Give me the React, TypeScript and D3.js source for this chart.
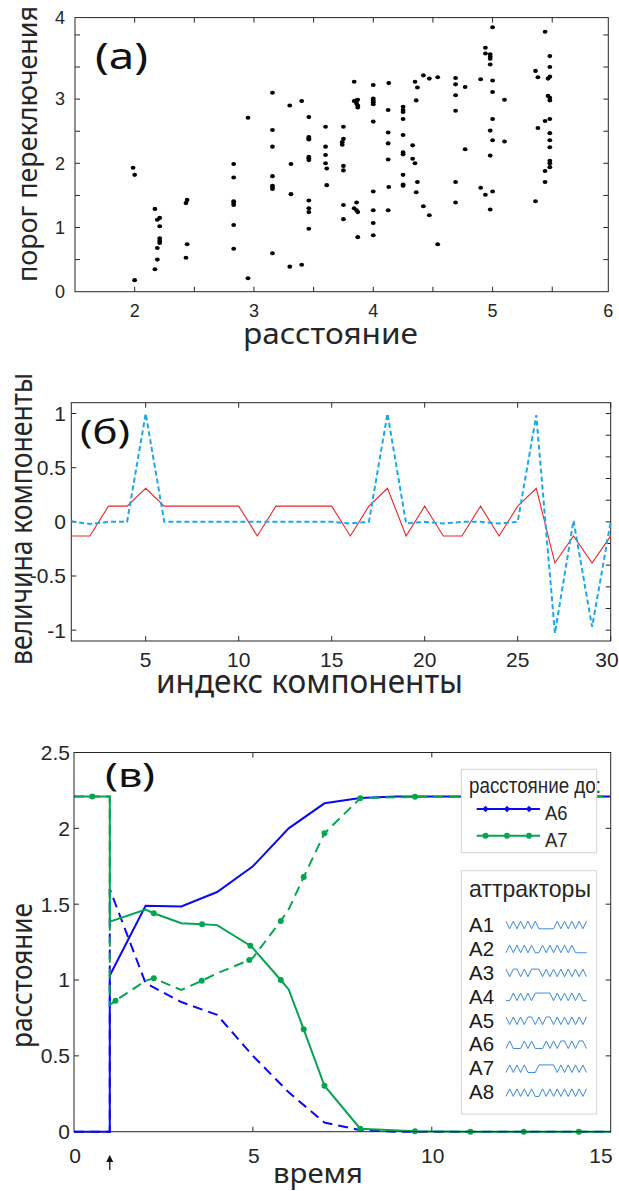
import React, { useEffect } from "react";
import * as d3 from "d3";

const TICK_FONT = "'Liberation Sans', Arial, Helvetica, sans-serif";
const LABEL_FONT = "'Noto Sans', 'Open Sans', 'DejaVu Sans', sans-serif";
const AXIS_COLOR = "#262626";

// ---------- (а) switching threshold vs distance ----------
const distanceCols = [
  1.987, 2.0, 2.17, 2.19, 2.21, 2.43, 2.44, 2.83, 2.95, 3.155, 3.3, 3.31, 3.4, 3.46,
  3.6, 3.61, 3.74, 3.75, 3.84, 3.86, 3.87, 4.0, 4.125, 4.13, 4.25, 4.33, 4.35, 4.36,
  4.37, 4.42, 4.47, 4.54, 4.69, 4.77, 4.9, 4.94, 4.98, 5.0, 5.1, 5.36, 5.38, 5.44,
  5.465, 5.48,
];
const thresholdCols = [
  [1.93],
  [1.82, 0.18],
  [1.29, 0.35],
  [1.12, 0.68, 0.5],
  [1.15, 1.02, 0.83, 0.79, 0.76],
  [1.38, 0.53],
  [1.43, 0.74],
  [1.99, 1.78, 1.41, 1.38, 1.35, 1.04, 0.67],
  [2.71, 0.21],
  [3.1, 2.52, 2.26, 1.8, 1.65, 1.63, 1.6, 0.6],
  [2.9, 0.39],
  [1.99, 1.52],
  [2.97, 0.42],
  [2.72, 2.41, 2.39, 2.37, 2.1, 2.08, 2.05, 1.42, 1.3, 1.24, 0.98],
  [2.57, 2.26, 2.13, 2.0],
  [1.92, 1.66],
  [2.33, 2.29],
  [2.57, 2.38, 1.96, 1.89, 1.35, 1.13],
  [3.27, 2.97, 1.3],
  [2.98, 2.93, 1.39, 1.27],
  [2.99, 2.9, 2.87, 1.24, 0.85],
  [3.22, 3.01, 2.98, 2.95, 2.92, 2.65, 1.56, 1.27, 1.07, 0.88],
  [2.83, 2.48, 2.31, 2.06, 1.27],
  [3.25, 1.63],
  [2.88, 2.83, 2.8, 2.69, 2.44, 2.17, 2.14, 1.82, 1.67, 1.65],
  [2.28, 2.07],
  [3.27, 2.0],
  [2.98, 1.55],
  [3.18, 1.71],
  [3.37, 1.33],
  [3.32, 1.19],
  [3.34, 0.74],
  [3.33, 3.23, 3.06, 2.82, 1.71, 1.39],
  [3.19, 2.22],
  [3.31, 1.62],
  [3.8, 3.71, 1.51],
  [3.7, 3.66, 3.63, 3.54, 2.51, 2.12, 1.28],
  [4.12, 3.29, 3.11, 2.69, 2.36, 1.56],
  [2.99, 2.34],
  [3.44, 1.41],
  [3.34, 2.55],
  [4.05, 2.66, 1.88, 1.71],
  [3.32, 3.05],
  [3.67, 3.5, 3.35, 3.02, 2.98, 2.69, 2.47, 2.36, 2.25, 2.04, 2.0, 1.94],
];
const xTickValsA = [2, 2.5, 3, 3.5, 4, 4.5, 5, 5.5];
const yTickValsA = [0.5, 1, 1.5, 2, 2.5, 3, 3.5, 4];
const xLabelsA = ["2", "3", "4", "5", "6"];
const yLabelsA = ["0", "1", "2", "3", "4"];

// ---------- (б) component values ----------
const componentIdx = [
  1, 2, 3, 4, 5, 6, 7, 8, 9, 10, 11, 12, 13, 14, 15, 16, 17, 18, 19, 20, 21, 22, 23, 24,
  25, 26, 27, 28, 29, 30,
];
const componentRed = [
  -0.13, -0.13, 0.145, 0.145, 0.31, 0.145, 0.145, 0.145, 0.145, 0.145, -0.13, 0.145,
  0.145, 0.145, 0.145, -0.13, 0.145, 0.31, -0.13, 0.145, -0.13, -0.13, 0.145, -0.13,
  0.145, 0.31, -0.38, -0.13, -0.38, -0.13,
];
const componentCyan = [
  0.005, -0.02, 0, 0, 1.0, 0, 0, 0, 0, 0, 0, 0, 0, 0, 0, -0.015, 0, 1.0, -0.015, 0,
  -0.015, 0, 0, -0.015, 0, 0.985, -1.03, 0.012, -0.97, 0,
];
const xTickValsB = [5, 10, 15, 20, 25, 30];
const yLabelValsB = [-1, -0.5, 0, 0.5, 1];
const yMinorValsB = [-1, -0.8, -0.6, -0.4, -0.2, 0, 0.2, 0.4, 0.6, 0.8, 1];

// ---------- (в) distance to attractors over time ----------
type Pt = [number, number];
const distA6Solid: Pt[] = [
  [0, 0], [1, 0], [1, 1.03], [2, 1.49], [3, 1.485], [4, 1.58], [5, 1.75], [6, 2.0],
  [7, 2.165], [8, 2.2], [9, 2.21], [15, 2.21],
];
const distA6Dashed: Pt[] = [
  [0, 0], [1, 0], [1, 1.6], [2, 0.98], [3, 0.855], [4, 0.77], [5, 0.5], [6, 0.26],
  [7, 0.06], [8, 0.01], [9, 0], [15, 0],
];
const distA7Solid: Pt[] = [
  [0, 2.21], [1, 2.21], [1, 1.385], [2, 1.465], [2.23, 1.44], [3, 1.375], [3.58, 1.367],
  [4, 1.362], [4.93, 1.226], [5, 1.21], [5.78, 1.0], [6, 0.938], [6.42, 0.675],
  [7, 0.303], [8, 0.02], [9.53, 0.003], [11.08, 0], [15, 0],
];
const distA7SolidMarks: Pt[] = [
  [0.51, 2.21], [2.23, 1.44], [3.58, 1.367], [4.93, 1.226], [5.78, 1.0], [6.42, 0.675],
  [7, 0.303], [8, 0.02], [9.53, 0.003], [11.08, 0], [12.57, 0], [14.11, 0],
];
const distA7Dashed: Pt[] = [
  [0, 2.21], [1, 2.21], [1, 0.835], [1.16, 0.864], [2, 0.995], [2.23, 1.011], [3, 0.934],
  [3.57, 0.995], [4, 1.044], [4.9, 1.132], [5, 1.147], [5.78, 1.389], [6, 1.466],
  [6.42, 1.679], [7, 1.967], [8, 2.198], [9.53, 2.208], [15, 2.21],
];
const distA7DashedMarks: Pt[] = [
  [1.16, 0.864], [2.23, 1.011], [3.57, 0.995], [4.9, 1.132], [5.78, 1.389], [6.42, 1.679],
  [7, 1.967], [8, 2.198], [9.53, 2.208], [11.08, 2.21], [12.57, 2.21], [14.11, 2.21],
];
const perturbTime = 1;
const xTickValsC = [0, 5, 10, 15];
const yTickValsC = [0, 0.5, 1, 1.5, 2, 2.5];
const legendDistItems = ["A6", "A7"];
const attractorNames = ["A1", "A2", "A3", "A4", "A5", "A6", "A7", "A8"];
const attractorPatterns = [
  "10101010100000101010101",
  "01010101001010101010000",
  "10110101110101010101010",
  "00101010111110101010100",
  "10101011010110101010101",
  "01000101000101011010110",
  "01010100011111010101010",
  "01010101001010101010101",
];

const BLUE = "#0a0af0";
const GREEN = "#05a550";

function Box({ x0, x1, y0, y1 }: { x0: number; x1: number; y0: number; y1: number }) {
  return (
    <rect x={x0} y={y0} width={x1 - x0} height={y1 - y0} fill="none" stroke={AXIS_COLOR} strokeWidth={1} />
  );
}

// axis title, optionally rotated, fitted to a given length
function Title({
  x, y, text, size, len, rotate = false,
}: { x: number; y: number; text: string; size: number; len: number; rotate?: boolean }) {
  return (
    <text
      transform={rotate ? `translate(${x},${y}) rotate(-90)` : `translate(${x},${y})`}
      fontSize={size}
      fontFamily={LABEL_FONT}
      textAnchor="middle"
      textLength={len}
      lengthAdjust="spacingAndGlyphs"
      fill="#262626"
    >
      {text}
    </text>
  );
}

const App = () => {
  useEffect(() => {
    document.body.style.margin = "0";
  }, []);

  // ----- scales -----
  const xA = d3.scaleLinear().domain([1.5, 5.97]).range([75, 608.3]);
  const yA = d3.scaleLinear().domain([0, 4.27]).range([291.7, 17.6]);
  const xLabelPosA = [2, 3, 4, 5, xA.domain()[1]];
  const yLabelPosA = [0, 1, 2, 3, yA.domain()[1]];

  const xB = d3.scaleLinear().domain([1, 30]).range([71.3, 610.7]);
  const yB = d3.scaleLinear().domain([-1.1, 1.1]).range([641, 402.7]);

  const xC = d3.scaleLinear().domain([0, 15]).range([74, 610.7]);
  const yC = d3.scaleLinear().domain([0, 2.5]).range([1131.7, 752.5]);

  const [ax0, ax1] = xA.range();
  const [ay1, ay0] = yA.range();
  const [bx0, bx1] = xB.range();
  const [by1, by0] = yB.range();
  const [cx0, cx1] = xC.range();
  const [cy1, cy0] = yC.range();
  const TL = 5;

  const lineB = d3
    .line<number>()
    .x((_, i) => xB(componentIdx[i]))
    .y((d) => yB(d));
  const lineC = d3
    .line<Pt>()
    .x((d) => xC(d[0]))
    .y((d) => yC(d[1]));

  // legend geometry
  const lg1 = { x0: 461.3, x1: 596.7, y0: 769.3, y1: 852.7 };
  const lg2 = { x0: 461.3, x1: 596.7, y0: 870.7, y1: 1114 };
  const waveX = d3.scaleLinear().domain([0, 22]).range([506, 586.5]);

  return (
    <svg
      width={619}
      height={1191}
      viewBox="0 0 619 1191"
      style={{ display: "block", position: "absolute", left: 0, top: 0, background: "#fff" }}
    >
      <rect x={0} y={0} width={619} height={1191} fill="#fff" />

      {/* ================= (а) ================= */}
      <g>
        <Box x0={ax0} x1={ax1} y0={ay0} y1={ay1} />
        {xTickValsA.map((v) => (
          <g key={"xa" + v} stroke={AXIS_COLOR}>
            <line x1={xA(v)} x2={xA(v)} y1={ay1} y2={ay1 - TL} />
            <line x1={xA(v)} x2={xA(v)} y1={ay0} y2={ay0 + TL} />
          </g>
        ))}
        {yTickValsA.map((v) => (
          <g key={"ya" + v} stroke={AXIS_COLOR}>
            <line x1={ax0} x2={ax0 + TL} y1={yA(v)} y2={yA(v)} />
            <line x1={ax1} x2={ax1 - TL} y1={yA(v)} y2={yA(v)} />
          </g>
        ))}
        {xLabelsA.map((t, i) => (
          <text key={"xla" + t} x={Math.min(xA(xLabelPosA[i]), 612)} y={317} fontSize={18} fontFamily={TICK_FONT} textAnchor="middle" fill="#262626">
            {t}
          </text>
        ))}
        {yLabelsA.map((t, i) => (
          <text key={"yla" + t} x={65} y={yA(yLabelPosA[i])} dy="0.35em" fontSize={18} fontFamily={TICK_FONT} textAnchor="end" fill="#262626">
            {t}
          </text>
        ))}
        {distanceCols.map((d, ci) =>
          thresholdCols[ci].map((v, k) => (
            <ellipse key={`p${ci}-${k}`} cx={xA(d)} cy={yA(v)} rx={2.4} ry={2.05} fill="#000" />
          ))
        )}
        <text x={95} y={69} fontSize={37} fontFamily={LABEL_FONT} textLength={53} lengthAdjust="spacingAndGlyphs" fill="#111">(а)</text>
        <Title x={330.5} y={344} text="расстояние" size={29} len={175} />
        <Title x={36.7} y={144} text="порог переключения" size={28} len={276} rotate />
      </g>

      {/* ================= (б) ================= */}
      <g>
        <Box x0={bx0} x1={bx1} y0={by0} y1={by1} />
        {xTickValsB.map((v) => (
          <g key={"xb" + v} stroke={AXIS_COLOR}>
            <line x1={xB(v)} x2={xB(v)} y1={by1} y2={by1 - TL} />
            <line x1={xB(v)} x2={xB(v)} y1={by0} y2={by0 + TL} />
          </g>
        ))}
        {yLabelValsB.map((v) => (
          <line key={"ybl" + v} x1={bx0} x2={bx0 + TL} y1={yB(v)} y2={yB(v)} stroke={AXIS_COLOR} />
        ))}
        {yMinorValsB.map((v) => (
          <line key={"ybr" + v} x1={bx1} x2={bx1 - TL} y1={yB(v)} y2={yB(v)} stroke={AXIS_COLOR} />
        ))}
        {xTickValsB.map((v) => (
          <text key={"xlb" + v} x={Math.min(xB(v), 607)} y={667} fontSize={21} fontFamily={TICK_FONT} textAnchor="middle" fill="#262626">
            {v}
          </text>
        ))}
        {yLabelValsB.map((v) => (
          <text key={"ylb" + v} x={66} y={yB(v)} dy="0.35em" fontSize={21} fontFamily={TICK_FONT} textAnchor="end" fill="#262626">
            {v}
          </text>
        ))}
        <path d={lineB(componentRed) ?? ""} fill="none" stroke="#e8262c" strokeWidth={1.1} />
        <path d={lineB(componentCyan) ?? ""} fill="none" stroke="#1ba8e8" strokeWidth={2} strokeDasharray="5,3" />
        <text x={80} y={444} fontSize={33} fontFamily={LABEL_FONT} textLength={50} lengthAdjust="spacingAndGlyphs" fill="#111">(б)</text>
        <Title x={309.5} y={693} text="индекс компоненты" size={32} len={307} />
        <Title x={31.7} y={519} text="величина компоненты" size={30} len={292} rotate />
      </g>

      {/* ================= (в) ================= */}
      <g>
        <path d={lineC(distA6Dashed) ?? ""} fill="none" stroke={BLUE} strokeWidth={2} strokeDasharray="10,6" />
        <path d={lineC(distA6Solid) ?? ""} fill="none" stroke={BLUE} strokeWidth={2} />
        <path d={lineC(distA7Dashed) ?? ""} fill="none" stroke={GREEN} strokeWidth={2} strokeDasharray="10,6" />
        {distA7DashedMarks.map((p, i) => (
          <circle key={"gdm" + i} cx={xC(p[0])} cy={yC(p[1])} r={3} fill={GREEN} />
        ))}
        <path d={lineC(distA7Solid) ?? ""} fill="none" stroke={GREEN} strokeWidth={2} />
        {distA7SolidMarks.map((p, i) => (
          <circle key={"gsm" + i} cx={xC(p[0])} cy={yC(p[1])} r={3} fill={GREEN} />
        ))}

        <Box x0={cx0} x1={cx1} y0={cy0} y1={cy1} />
        {xTickValsC.slice(1, 3).map((v) => (
          <g key={"xc" + v} stroke={AXIS_COLOR}>
            <line x1={xC(v)} x2={xC(v)} y1={cy1} y2={cy1 - TL} />
            <line x1={xC(v)} x2={xC(v)} y1={cy0} y2={cy0 + TL} />
          </g>
        ))}
        {yTickValsC.slice(1, 5).map((v) => (
          <g key={"yc" + v} stroke={AXIS_COLOR}>
            <line x1={cx0} x2={cx0 + TL} y1={yC(v)} y2={yC(v)} />
            <line x1={cx1} x2={cx1 - TL} y1={yC(v)} y2={yC(v)} />
          </g>
        ))}
        {xTickValsC.map((v) => (
          <text key={"xlc" + v} x={Math.min(xC(v) + 1, 601)} y={1163} fontSize={21} fontFamily={TICK_FONT} textAnchor="middle" fill="#262626">
            {v}
          </text>
        ))}
        {yTickValsC.map((v) => (
          <text key={"ylc" + v} x={70} y={yC(v)} dy="0.35em" fontSize={21} fontFamily={TICK_FONT} textAnchor="end" fill="#262626">
            {v}
          </text>
        ))}
        {/* perturbation marker */}
        <line x1={xC(perturbTime)} x2={xC(perturbTime)} y1={1170} y2={1160} stroke="#111" strokeWidth={1.3} />
        <path
          d={`M${xC(perturbTime) - 3.5},${1162} L${xC(perturbTime)},${1155} L${xC(perturbTime) + 3.5},${1162} Z`}
          fill="#111"
        />
        <text x={105} y={787} fontSize={32} fontFamily={LABEL_FONT} textLength={50} lengthAdjust="spacingAndGlyphs" fill="#111">(в)</text>
        <Title x={318} y={1183} text="время" size={27} len={90} />
        <Title x={31.7} y={975.5} text="расстояние" size={29} len={145} rotate />

        {/* legend: distance to */}
        <rect x={lg1.x0} y={lg1.y0} width={lg1.x1 - lg1.x0} height={lg1.y1 - lg1.y0} fill="#fff" stroke="#d4d4d4" />
        <text x={469} y={793} fontSize={22} fontFamily={TICK_FONT} textLength={132} lengthAdjust="spacingAndGlyphs" fill="#262626">
          расстояние до:
        </text>
        {legendDistItems.map((name, i) => {
          const yy = 809 + i * 26.8;
          const col = i === 0 ? BLUE : GREEN;
          const mx = [485.5, 507, 529];
          return (
            <g key={name}>
              <line x1={476.7} x2={540} y1={yy} y2={yy} stroke={col} strokeWidth={2} />
              {mx.map((x) =>
                i === 0 ? (
                  <path key={x} d={`M${x},${yy - 3.2} L${x + 3.2},${yy} L${x},${yy + 3.2} L${x - 3.2},${yy} Z`} fill={col} />
                ) : (
                  <circle key={x} cx={x} cy={yy} r={3} fill={col} />
                )
              )}
              <text x={545} y={yy + 11} fontSize={21} fontFamily={TICK_FONT} textLength={22.5} lengthAdjust="spacingAndGlyphs" fill="#262626">
                {name}
              </text>
            </g>
          );
        })}

        {/* legend: attractors */}
        <rect x={lg2.x0} y={lg2.y0} width={lg2.x1 - lg2.x0} height={lg2.y1 - lg2.y0} fill="#fff" stroke="#d4d4d4" />
        <text x={469} y={896.7} fontSize={24} fontFamily={TICK_FONT} textLength={122} lengthAdjust="spacingAndGlyphs" fill="#262626">
          аттракторы
        </text>
        {attractorNames.map((name, i) => {
          const base = 931.7 + i * 23.95;
          const cy = base - 6.7;
          const bits = attractorPatterns[i].split("").map(Number);
          const wave = d3
            .line<number>()
            .x((_, k) => waveX(k))
            .y((b) => cy + (b ? -3.8 : 3.8));
          return (
            <g key={name}>
              <text x={469} y={base} fontSize={21} fontFamily={TICK_FONT} textLength={25} lengthAdjust="spacingAndGlyphs" fill="#1a1a1a">
                {name}
              </text>
              <path d={wave(bits) ?? ""} fill="none" stroke="#3a8ad6" strokeWidth={1} />
            </g>
          );
        })}
      </g>
    </svg>
  );
};

export default App;
